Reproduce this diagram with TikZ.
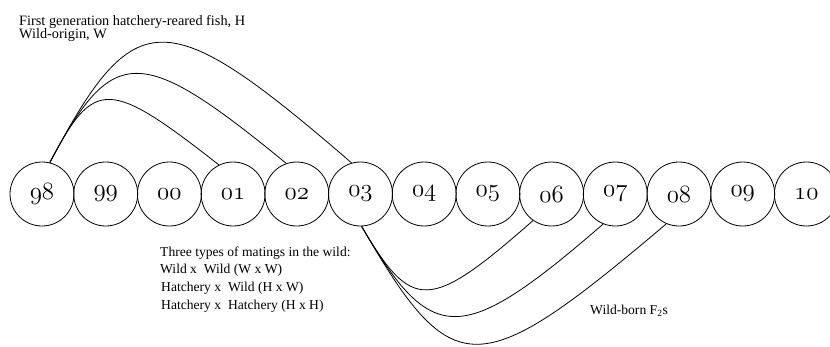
\documentclass[tikz,border=0pt]{standalone}
\usepackage{fontspec}
\newfontfamily\labelfont{Liberation Serif}

\begin{document}
\begin{tikzpicture}[
  x = 1pt, y = -1pt,
  year/.style = {draw, circle, minimum size = 64pt, inner sep = 0pt,
                 line width = 0.8pt, font = \fontsize{24.88}{26}\selectfont},
  mating/.style = {line width = 0.8pt},
  caption/.style = {anchor = base west, inner sep = 0pt,
                    font = \labelfont\fontsize{13.6}{16}\selectfont},
  headline/.style = {caption, font = \labelfont\fontsize{14.3}{16}\selectfont},
  ]
  \useasboundingbox (0,0) rectangle (830,346);
  \foreach \yr [count = \i from 0] in {98,99,00,01,02,03,04,05,06,07,08,09,10}
    \node[year] (y\yr) at (42 + 63.7*\i, 194) {$\mathnormal{\yr}$};
  % released parents return
  \draw[mating] (y98.76) .. controls (94,78) and (108,78) .. (y01.116);
  \draw[mating] (y98.76) .. controls (113,43.5) and (140,43.5) .. (y02.109);
  \draw[mating] (y98.76) .. controls (135,2) and (165,2) .. (y03.106);
  % offspring born in the wild
  \draw[mating] (y03.272) .. controls (412,312) and (429,312) .. (y06.235);
  \draw[mating] (y03.272) .. controls (432,347) and (461,347) .. (y07.248);
  \draw[mating] (y03.272) .. controls (453,384) and (477,384) .. (y08.247);
  \node[headline] (hatch) at (19,25) {First generation hatchery-reared fish, H};
  \node[headline] (wildorig) at (19,38) {Wild-origin, W};
  \node[caption] (types) at (160,256) {Three types of matings in the wild:};
  \node[caption] (ww) at (160,273) {Wild x\ \ Wild (W x W)};
  \node[caption] (hw) at (161,291) {Hatchery x\ \ Wild (H x W)};
  \node[caption] (hh) at (161,309) {Hatchery x\ \ Hatchery (H x H)};
  \node[caption] (ftwo) at (590,314) {Wild-born F\textsubscript{2}s};
\end{tikzpicture}
\end{document}
